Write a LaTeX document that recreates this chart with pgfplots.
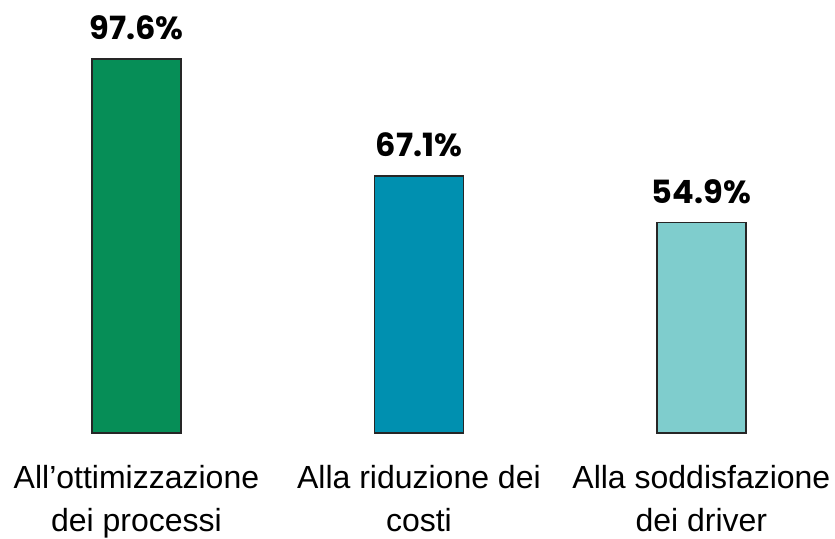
\documentclass[border=0pt]{standalone}
\usepackage{fontspec}
\setmainfont{Liberation Sans}
\newfontfamily\valfont{Poppins}[BoldFont={Poppins Bold}]
\usepackage{pgfplots}
\pgfplotsset{compat=1.18}
\definecolor{cA}{HTML}{068E57}
\definecolor{cB}{HTML}{0090B0}
\definecolor{cC}{HTML}{7FCDCD}
\begin{document}
\begin{tikzpicture}
\begin{axis}[
 name=ax,
 scale only axis,width=835bp,height=433bp,
 xmin=-0.483,xmax=2.473,ymin=0,ymax=113,
 axis line style={draw=none},tick style={draw=none},
 ytick=\empty,
 ybar,bar width=89bp,bar shift=0pt,
 xtick={0,1,2},
 xticklabels={All’ottimizzazione\\dei processi,Alla riduzione dei\\costi,Alla soddisfazione\\dei driver},
 x tick label style={align=center,inner sep=0pt,font=\fontsize{32bp}{43bp}\selectfont,yshift=-28bp},
 /pgf/number format/assume math mode=true,
 nodes near coords={\pgfmathprintnumber[fixed,precision=1,fixed zerofill,assume math mode=true]{\pgfplotspointmeta}\%},
 nodes near coords style={font=\valfont\bfseries\fontsize{32bp}{36bp}\selectfont,anchor=south,yshift=15bp},
 every axis plot/.append style={draw=black!85,line width=1.6bp},
]
\addplot[fill=cA] coordinates {(0,97.6)};
\addplot[fill=cB] coordinates {(1,67.1)};
\addplot[fill=cC] coordinates {(2,54.9)};
\end{axis}
\pgfresetboundingbox
\path[use as bounding box] ([yshift=-106bp]ax.south west) rectangle (ax.north east);
\end{tikzpicture}
\end{document}
